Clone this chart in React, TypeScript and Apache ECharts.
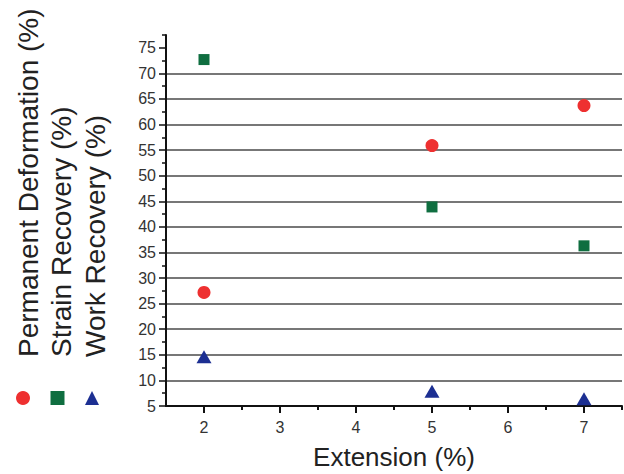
import React, { useEffect, useRef } from "react";
import * as echarts from "echarts";

const extensions = [2, 5, 7];
const permanentDeformation = [27.2, 55.9, 63.7];
const strainRecovery = [72.7, 43.9, 36.3];
const workRecovery = [14.6, 7.9, 6.4];

const xMajorTicks = [2, 3, 4, 5, 6, 7];
const xMinorTicks = [2.5, 3.5, 4.5, 5.5, 6.5, 7.5];
const yMajorTicks = [5, 10, 15, 20, 25, 30, 35, 40, 45, 50, 55, 60, 65, 70, 75];
const yMinorTicks = [7.5, 12.5, 17.5, 22.5, 27.5, 32.5, 37.5, 42.5, 47.5, 52.5, 57.5, 62.5, 67.5, 72.5, 77.5];

const seriesNames = ["Permanent Deformation (%)", "Strain Recovery (%)", "Work Recovery (%)"];
const seriesColors = ["#ee3030", "#0f6e40", "#1c2f92"];

const FONT = "Liberation Sans, Arial, Helvetica, sans-serif";

export default function App() {
  const ref = useRef<HTMLDivElement>(null);
  useEffect(() => {
    document.body.style.margin = "0";
    const chart = echarts.init(ref.current!, null, { renderer: "svg" });
    const pairs = (ys: number[]) => extensions.map((x, i) => [x, ys[i]]);
    const titleText = (text: string, x: number) => ({
      type: "text",
      x,
      y: 357,
      rotation: Math.PI / 2,
      style: { text, font: `28px ${FONT}`, fill: "#222", align: "left", verticalAlign: "middle" },
    });
    chart.setOption({
      animation: false,
      backgroundColor: "#ffffff",
      grid: { left: 166, right: 2, top: 35, bottom: 68, containLabel: false, outerBoundsMode: "none" },
      legend: {
        left: 11,
        top: 386,
        orient: "horizontal",
        itemWidth: 14,
        itemHeight: 14,
        itemGap: 20.5,
        formatter: () => "",
        textStyle: { fontSize: 1 },
        selectedMode: false,
        data: seriesNames,
      },
      graphic: [titleText(seriesNames[0], 28), titleText(seriesNames[1], 61), titleText(seriesNames[2], 95)],
      xAxis: [
        {
          type: "value",
          min: 1.5,
          max: 7.5,
          interval: 0.5,
          name: "Extension (%)",
          nameLocation: "middle",
          nameGap: 38,
          nameTextStyle: { fontSize: 26, color: "#222", fontFamily: FONT },
          axisLine: { show: true, onZero: false, lineStyle: { color: "#111", width: 2 } },
          axisTick: { show: true, customValues: xMajorTicks, length: 7, inside: false, lineStyle: { color: "#111", width: 2 } },
          axisLabel: { customValues: xMajorTicks, fontSize: 16, color: "#333", fontFamily: FONT, margin: 13 },
          splitLine: { show: false },
        },
        {
          type: "value",
          min: 1.5,
          max: 7.5,
          interval: 0.5,
          position: "bottom",
          axisLine: { show: false },
          axisTick: { show: true, customValues: xMinorTicks, length: 4, inside: false, lineStyle: { color: "#111", width: 2 } },
          axisLabel: { show: false },
          splitLine: { show: false },
        },
      ],
      yAxis: [
        {
          type: "value",
          min: 5,
          max: 77.5,
          interval: 5,
          axisLine: { show: true, onZero: false, lineStyle: { color: "#111", width: 2 } },
          axisTick: { show: true, customValues: yMajorTicks, length: 7, inside: false, lineStyle: { color: "#111", width: 1.5 } },
          axisLabel: { customValues: yMajorTicks, fontSize: 16, color: "#333", fontFamily: FONT, margin: 10 },
          splitLine: { show: true, showMinLine: false, showMaxLine: false, lineStyle: { color: "#4a4a4a", width: 1.6 } },
        },
        {
          type: "value",
          min: 5,
          max: 77.5,
          interval: 5,
          position: "left",
          axisLine: { show: false },
          axisTick: { show: true, customValues: yMinorTicks, length: 4, inside: false, lineStyle: { color: "#111", width: 1.5 } },
          axisLabel: { show: false },
          splitLine: { show: false },
        },
      ],
      series: [
        {
          name: seriesNames[0],
          type: "scatter",
          symbol: "circle",
          symbolSize: 13,
          itemStyle: { color: seriesColors[0], opacity: 1 },
          data: pairs(permanentDeformation),
          xAxisIndex: 0,
          yAxisIndex: 0,
          z: 5,
        },
        {
          name: seriesNames[1],
          type: "scatter",
          symbol: "rect",
          symbolSize: 11,
          itemStyle: { color: seriesColors[1], opacity: 1 },
          data: pairs(strainRecovery),
          xAxisIndex: 0,
          yAxisIndex: 0,
          z: 5,
        },
        {
          name: seriesNames[2],
          type: "scatter",
          symbol: "triangle",
          symbolSize: [15, 13],
          itemStyle: { color: seriesColors[2], opacity: 1 },
          data: pairs(workRecovery),
          xAxisIndex: 0,
          yAxisIndex: 0,
          z: 5,
        },
      ],
    });
    return () => chart.dispose();
  }, []);
  return <div ref={ref} style={{ width: 624, height: 474 }} />;
}
